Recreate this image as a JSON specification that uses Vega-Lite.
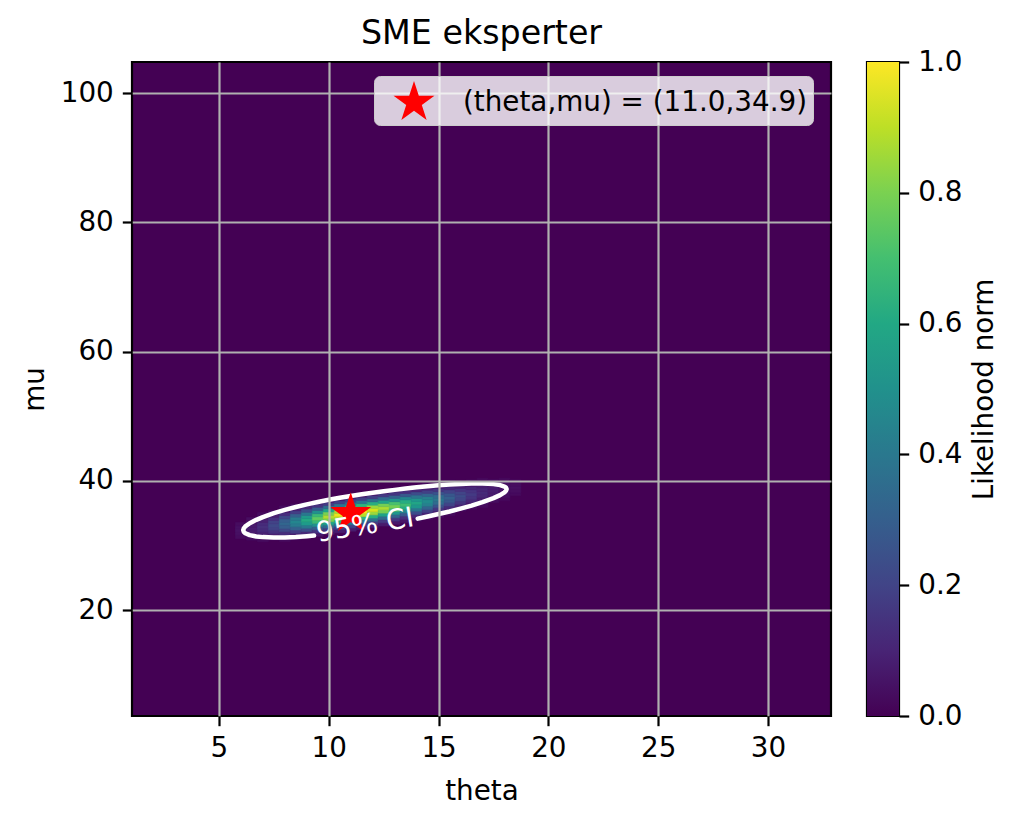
{
"$schema": "https://vega.github.io/schema/vega-lite/v6.json",
"padding": {"left": 20, "top": 15, "right": 5, "bottom": 5},
"background": "white",
"spacing": 32,
"config": {
 "font": "DejaVu Sans",
 "view": {"fill": "#440154", "stroke": "black", "strokeWidth": 2.2},
 "axis": {"labelFont": "DejaVu Sans", "titleFont": "DejaVu Sans", "labelFontSize": 27.8, "titleFontSize": 27.8, "titleFontWeight": "normal", "labelColor": "black", "titleColor": "black", "tickColor": "black", "tickSize": 9.7, "tickWidth": 2.2, "domain": false, "labelPadding": 9}
},
"datasets": {
 "heat": [
  {"t":5.75,"t2":6.25,"m":31.05,"m2":31.55,"L":0.029},{"t":5.75,"t2":6.25,"m":31.55,"m2":32.05,"L":0.040},{"t":5.75,"t2":6.25,"m":32.05,"m2":32.55,"L":0.044},{"t":5.75,"t2":6.25,"m":32.55,"m2":33.05,"L":0.040},{"t":5.75,"t2":6.25,"m":33.05,"m2":33.55,"L":0.029},
  {"t":6.25,"t2":6.75,"m":30.82,"m2":31.32,"L":0.031},{"t":6.25,"t2":6.75,"m":31.32,"m2":31.82,"L":0.053},{"t":6.25,"t2":6.75,"m":31.82,"m2":32.32,"L":0.072},{"t":6.25,"t2":6.75,"m":32.32,"m2":32.82,"L":0.080},{"t":6.25,"t2":6.75,"m":32.82,"m2":33.32,"L":0.072},{"t":6.25,"t2":6.75,"m":33.32,"m2":33.82,"L":0.053},{"t":6.25,"t2":6.75,"m":33.82,"m2":34.32,"L":0.031},
  {"t":6.75,"t2":7.25,"m":30.58,"m2":31.08,"L":0.026},{"t":6.75,"t2":7.25,"m":31.08,"m2":31.58,"L":0.053},{"t":6.75,"t2":7.25,"m":31.58,"m2":32.08,"L":0.090},{"t":6.75,"t2":7.25,"m":32.08,"m2":32.58,"L":0.122},{"t":6.75,"t2":7.25,"m":32.58,"m2":33.08,"L":0.135},{"t":6.75,"t2":7.25,"m":33.08,"m2":33.58,"L":0.122},{"t":6.75,"t2":7.25,"m":33.58,"m2":34.08,"L":0.090},{"t":6.75,"t2":7.25,"m":34.08,"m2":34.58,"L":0.053},{"t":6.75,"t2":7.25,"m":34.58,"m2":35.08,"L":0.026},
  {"t":7.25,"t2":7.75,"m":30.85,"m2":31.35,"L":0.041},{"t":7.25,"t2":7.75,"m":31.35,"m2":31.85,"L":0.085},{"t":7.25,"t2":7.75,"m":31.85,"m2":32.35,"L":0.143},{"t":7.25,"t2":7.75,"m":32.35,"m2":32.85,"L":0.195},{"t":7.25,"t2":7.75,"m":32.85,"m2":33.35,"L":0.216},{"t":7.25,"t2":7.75,"m":33.35,"m2":33.85,"L":0.195},{"t":7.25,"t2":7.75,"m":33.85,"m2":34.35,"L":0.143},{"t":7.25,"t2":7.75,"m":34.35,"m2":34.85,"L":0.085},{"t":7.25,"t2":7.75,"m":34.85,"m2":35.35,"L":0.041},
  {"t":7.75,"t2":8.25,"m":30.61,"m2":31.11,"L":0.025},{"t":7.75,"t2":8.25,"m":31.11,"m2":31.61,"L":0.062},{"t":7.75,"t2":8.25,"m":31.61,"m2":32.11,"L":0.128},{"t":7.75,"t2":8.25,"m":32.11,"m2":32.61,"L":0.215},{"t":7.75,"t2":8.25,"m":32.61,"m2":33.11,"L":0.293},{"t":7.75,"t2":8.25,"m":33.11,"m2":33.61,"L":0.325},{"t":7.75,"t2":8.25,"m":33.61,"m2":34.11,"L":0.293},{"t":7.75,"t2":8.25,"m":34.11,"m2":34.61,"L":0.215},{"t":7.75,"t2":8.25,"m":34.61,"m2":35.11,"L":0.128},{"t":7.75,"t2":8.25,"m":35.11,"m2":35.61,"L":0.062},{"t":7.75,"t2":8.25,"m":35.61,"m2":36.11,"L":0.025},
  {"t":8.25,"t2":8.75,"m":30.88,"m2":31.38,"L":0.035},{"t":8.25,"t2":8.75,"m":31.38,"m2":31.88,"L":0.088},{"t":8.25,"t2":8.75,"m":31.88,"m2":32.38,"L":0.181},{"t":8.25,"t2":8.75,"m":32.38,"m2":32.88,"L":0.303},{"t":8.25,"t2":8.75,"m":32.88,"m2":33.38,"L":0.413},{"t":8.25,"t2":8.75,"m":33.38,"m2":33.88,"L":0.458},{"t":8.25,"t2":8.75,"m":33.88,"m2":34.38,"L":0.413},{"t":8.25,"t2":8.75,"m":34.38,"m2":34.88,"L":0.303},{"t":8.25,"t2":8.75,"m":34.88,"m2":35.38,"L":0.181},{"t":8.25,"t2":8.75,"m":35.38,"m2":35.88,"L":0.088},{"t":8.25,"t2":8.75,"m":35.88,"m2":36.38,"L":0.035},
  {"t":8.75,"t2":9.25,"m":31.14,"m2":31.64,"L":0.046},{"t":8.75,"t2":9.25,"m":31.64,"m2":32.14,"L":0.116},{"t":8.75,"t2":9.25,"m":32.14,"m2":32.64,"L":0.239},{"t":8.75,"t2":9.25,"m":32.64,"m2":33.14,"L":0.401},{"t":8.75,"t2":9.25,"m":33.14,"m2":33.64,"L":0.547},{"t":8.75,"t2":9.25,"m":33.64,"m2":34.14,"L":0.607},{"t":8.75,"t2":9.25,"m":34.14,"m2":34.64,"L":0.547},{"t":8.75,"t2":9.25,"m":34.64,"m2":35.14,"L":0.401},{"t":8.75,"t2":9.25,"m":35.14,"m2":35.64,"L":0.239},{"t":8.75,"t2":9.25,"m":35.64,"m2":36.14,"L":0.116},{"t":8.75,"t2":9.25,"m":36.14,"m2":36.64,"L":0.046},
  {"t":9.25,"t2":9.75,"m":31.41,"m2":31.91,"L":0.057},{"t":9.25,"t2":9.75,"m":31.91,"m2":32.41,"L":0.145},{"t":9.25,"t2":9.75,"m":32.41,"m2":32.91,"L":0.298},{"t":9.25,"t2":9.75,"m":32.91,"m2":33.41,"L":0.499},{"t":9.25,"t2":9.75,"m":33.41,"m2":33.91,"L":0.681},{"t":9.25,"t2":9.75,"m":33.91,"m2":34.41,"L":0.755},{"t":9.25,"t2":9.75,"m":34.41,"m2":34.91,"L":0.681},{"t":9.25,"t2":9.75,"m":34.91,"m2":35.41,"L":0.499},{"t":9.25,"t2":9.75,"m":35.41,"m2":35.91,"L":0.298},{"t":9.25,"t2":9.75,"m":35.91,"m2":36.41,"L":0.145},{"t":9.25,"t2":9.75,"m":36.41,"m2":36.91,"L":0.057},
  {"t":9.75,"t2":10.25,"m":31.67,"m2":32.17,"L":0.067},{"t":9.75,"t2":10.25,"m":32.17,"m2":32.67,"L":0.169},{"t":9.75,"t2":10.25,"m":32.67,"m2":33.17,"L":0.348},{"t":9.75,"t2":10.25,"m":33.17,"m2":33.67,"L":0.584},{"t":9.75,"t2":10.25,"m":33.67,"m2":34.17,"L":0.796},{"t":9.75,"t2":10.25,"m":34.17,"m2":34.67,"L":0.883},{"t":9.75,"t2":10.25,"m":34.67,"m2":35.17,"L":0.796},{"t":9.75,"t2":10.25,"m":35.17,"m2":35.67,"L":0.584},{"t":9.75,"t2":10.25,"m":35.67,"m2":36.17,"L":0.348},{"t":9.75,"t2":10.25,"m":36.17,"m2":36.67,"L":0.169},{"t":9.75,"t2":10.25,"m":36.67,"m2":37.17,"L":0.067},
  {"t":10.25,"t2":10.75,"m":31.94,"m2":32.44,"L":0.073},{"t":10.25,"t2":10.75,"m":32.44,"m2":32.94,"L":0.186},{"t":10.25,"t2":10.75,"m":32.94,"m2":33.44,"L":0.382},{"t":10.25,"t2":10.75,"m":33.44,"m2":33.94,"L":0.641},{"t":10.25,"t2":10.75,"m":33.94,"m2":34.44,"L":0.874},{"t":10.25,"t2":10.75,"m":34.44,"m2":34.94,"L":0.969},{"t":10.25,"t2":10.75,"m":34.94,"m2":35.44,"L":0.874},{"t":10.25,"t2":10.75,"m":35.44,"m2":35.94,"L":0.641},{"t":10.25,"t2":10.75,"m":35.94,"m2":36.44,"L":0.382},{"t":10.25,"t2":10.75,"m":36.44,"m2":36.94,"L":0.186},{"t":10.25,"t2":10.75,"m":36.94,"m2":37.44,"L":0.073},
  {"t":10.75,"t2":11.25,"m":32.2,"m2":32.7,"L":0.076},{"t":10.75,"t2":11.25,"m":32.7,"m2":33.2,"L":0.192},{"t":10.75,"t2":11.25,"m":33.2,"m2":33.7,"L":0.395},{"t":10.75,"t2":11.25,"m":33.7,"m2":34.2,"L":0.662},{"t":10.75,"t2":11.25,"m":34.2,"m2":34.7,"L":0.902},{"t":10.75,"t2":11.25,"m":34.7,"m2":35.2,"L":1.0},{"t":10.75,"t2":11.25,"m":35.2,"m2":35.7,"L":0.902},{"t":10.75,"t2":11.25,"m":35.7,"m2":36.2,"L":0.662},{"t":10.75,"t2":11.25,"m":36.2,"m2":36.7,"L":0.395},{"t":10.75,"t2":11.25,"m":36.7,"m2":37.2,"L":0.192},{"t":10.75,"t2":11.25,"m":37.2,"m2":37.7,"L":0.076},
  {"t":11.25,"t2":11.75,"m":32.47,"m2":32.97,"L":0.074},{"t":11.25,"t2":11.75,"m":32.97,"m2":33.47,"L":0.189},{"t":11.25,"t2":11.75,"m":33.47,"m2":33.97,"L":0.389},{"t":11.25,"t2":11.75,"m":33.97,"m2":34.47,"L":0.652},{"t":11.25,"t2":11.75,"m":34.47,"m2":34.97,"L":0.889},{"t":11.25,"t2":11.75,"m":34.97,"m2":35.47,"L":0.985},{"t":11.25,"t2":11.75,"m":35.47,"m2":35.97,"L":0.889},{"t":11.25,"t2":11.75,"m":35.97,"m2":36.47,"L":0.652},{"t":11.25,"t2":11.75,"m":36.47,"m2":36.97,"L":0.389},{"t":11.25,"t2":11.75,"m":36.97,"m2":37.47,"L":0.189},{"t":11.25,"t2":11.75,"m":37.47,"m2":37.97,"L":0.074},
  {"t":11.75,"t2":12.25,"m":32.73,"m2":33.23,"L":0.071},{"t":11.75,"t2":12.25,"m":33.23,"m2":33.73,"L":0.180},{"t":11.75,"t2":12.25,"m":33.73,"m2":34.23,"L":0.372},{"t":11.75,"t2":12.25,"m":34.23,"m2":34.73,"L":0.623},{"t":11.75,"t2":12.25,"m":34.73,"m2":35.23,"L":0.850},{"t":11.75,"t2":12.25,"m":35.23,"m2":35.73,"L":0.942},{"t":11.75,"t2":12.25,"m":35.73,"m2":36.23,"L":0.850},{"t":11.75,"t2":12.25,"m":36.23,"m2":36.73,"L":0.623},{"t":11.75,"t2":12.25,"m":36.73,"m2":37.23,"L":0.372},{"t":11.75,"t2":12.25,"m":37.23,"m2":37.73,"L":0.180},{"t":11.75,"t2":12.25,"m":37.73,"m2":38.23,"L":0.071},
  {"t":12.25,"t2":12.75,"m":33.0,"m2":33.5,"L":0.066},{"t":12.25,"t2":12.75,"m":33.5,"m2":34.0,"L":0.168},{"t":12.25,"t2":12.75,"m":34.0,"m2":34.5,"L":0.345},{"t":12.25,"t2":12.75,"m":34.5,"m2":35.0,"L":0.579},{"t":12.25,"t2":12.75,"m":35.0,"m2":35.5,"L":0.789},{"t":12.25,"t2":12.75,"m":35.5,"m2":36.0,"L":0.875},{"t":12.25,"t2":12.75,"m":36.0,"m2":36.5,"L":0.789},{"t":12.25,"t2":12.75,"m":36.5,"m2":37.0,"L":0.579},{"t":12.25,"t2":12.75,"m":37.0,"m2":37.5,"L":0.345},{"t":12.25,"t2":12.75,"m":37.5,"m2":38.0,"L":0.168},{"t":12.25,"t2":12.75,"m":38.0,"m2":38.5,"L":0.066},
  {"t":12.75,"t2":13.25,"m":33.26,"m2":33.76,"L":0.060},{"t":12.75,"t2":13.25,"m":33.76,"m2":34.26,"L":0.151},{"t":12.75,"t2":13.25,"m":34.26,"m2":34.76,"L":0.311},{"t":12.75,"t2":13.25,"m":34.76,"m2":35.26,"L":0.522},{"t":12.75,"t2":13.25,"m":35.26,"m2":35.76,"L":0.711},{"t":12.75,"t2":13.25,"m":35.76,"m2":36.26,"L":0.788},{"t":12.75,"t2":13.25,"m":36.26,"m2":36.76,"L":0.711},{"t":12.75,"t2":13.25,"m":36.76,"m2":37.26,"L":0.522},{"t":12.75,"t2":13.25,"m":37.26,"m2":37.76,"L":0.311},{"t":12.75,"t2":13.25,"m":37.76,"m2":38.26,"L":0.151},{"t":12.75,"t2":13.25,"m":38.26,"m2":38.76,"L":0.060},
  {"t":13.25,"t2":13.75,"m":33.53,"m2":34.03,"L":0.052},{"t":13.25,"t2":13.75,"m":34.03,"m2":34.53,"L":0.132},{"t":13.25,"t2":13.75,"m":34.53,"m2":35.03,"L":0.272},{"t":13.25,"t2":13.75,"m":35.03,"m2":35.53,"L":0.456},{"t":13.25,"t2":13.75,"m":35.53,"m2":36.03,"L":0.622},{"t":13.25,"t2":13.75,"m":36.03,"m2":36.53,"L":0.690},{"t":13.25,"t2":13.75,"m":36.53,"m2":37.03,"L":0.622},{"t":13.25,"t2":13.75,"m":37.03,"m2":37.53,"L":0.456},{"t":13.25,"t2":13.75,"m":37.53,"m2":38.03,"L":0.272},{"t":13.25,"t2":13.75,"m":38.03,"m2":38.53,"L":0.132},{"t":13.25,"t2":13.75,"m":38.53,"m2":39.03,"L":0.052},
  {"t":13.75,"t2":14.25,"m":33.79,"m2":34.29,"L":0.044},{"t":13.75,"t2":14.25,"m":34.29,"m2":34.79,"L":0.112},{"t":13.75,"t2":14.25,"m":34.79,"m2":35.29,"L":0.231},{"t":13.75,"t2":14.25,"m":35.29,"m2":35.79,"L":0.387},{"t":13.75,"t2":14.25,"m":35.79,"m2":36.29,"L":0.528},{"t":13.75,"t2":14.25,"m":36.29,"m2":36.79,"L":0.586},{"t":13.75,"t2":14.25,"m":36.79,"m2":37.29,"L":0.528},{"t":13.75,"t2":14.25,"m":37.29,"m2":37.79,"L":0.387},{"t":13.75,"t2":14.25,"m":37.79,"m2":38.29,"L":0.231},{"t":13.75,"t2":14.25,"m":38.29,"m2":38.79,"L":0.112},{"t":13.75,"t2":14.25,"m":38.79,"m2":39.29,"L":0.044},
  {"t":14.25,"t2":14.75,"m":34.06,"m2":34.56,"L":0.036},{"t":14.25,"t2":14.75,"m":34.56,"m2":35.06,"L":0.092},{"t":14.25,"t2":14.75,"m":35.06,"m2":35.56,"L":0.190},{"t":14.25,"t2":14.75,"m":35.56,"m2":36.06,"L":0.319},{"t":14.25,"t2":14.75,"m":36.06,"m2":36.56,"L":0.435},{"t":14.25,"t2":14.75,"m":36.56,"m2":37.06,"L":0.483},{"t":14.25,"t2":14.75,"m":37.06,"m2":37.56,"L":0.435},{"t":14.25,"t2":14.75,"m":37.56,"m2":38.06,"L":0.319},{"t":14.25,"t2":14.75,"m":38.06,"m2":38.56,"L":0.190},{"t":14.25,"t2":14.75,"m":38.56,"m2":39.06,"L":0.092},{"t":14.25,"t2":14.75,"m":39.06,"m2":39.56,"L":0.036},
  {"t":14.75,"t2":15.25,"m":34.32,"m2":34.82,"L":0.029},{"t":14.75,"t2":15.25,"m":34.82,"m2":35.32,"L":0.074},{"t":14.75,"t2":15.25,"m":35.32,"m2":35.82,"L":0.152},{"t":14.75,"t2":15.25,"m":35.82,"m2":36.32,"L":0.256},{"t":14.75,"t2":15.25,"m":36.32,"m2":36.82,"L":0.348},{"t":14.75,"t2":15.25,"m":36.82,"m2":37.32,"L":0.386},{"t":14.75,"t2":15.25,"m":37.32,"m2":37.82,"L":0.348},{"t":14.75,"t2":15.25,"m":37.82,"m2":38.32,"L":0.256},{"t":14.75,"t2":15.25,"m":38.32,"m2":38.82,"L":0.152},{"t":14.75,"t2":15.25,"m":38.82,"m2":39.32,"L":0.074},{"t":14.75,"t2":15.25,"m":39.32,"m2":39.82,"L":0.029},
  {"t":15.25,"t2":15.75,"m":34.59,"m2":35.09,"L":0.023},{"t":15.25,"t2":15.75,"m":35.09,"m2":35.59,"L":0.057},{"t":15.25,"t2":15.75,"m":35.59,"m2":36.09,"L":0.118},{"t":15.25,"t2":15.75,"m":36.09,"m2":36.59,"L":0.198},{"t":15.25,"t2":15.75,"m":36.59,"m2":37.09,"L":0.271},{"t":15.25,"t2":15.75,"m":37.09,"m2":37.59,"L":0.300},{"t":15.25,"t2":15.75,"m":37.59,"m2":38.09,"L":0.271},{"t":15.25,"t2":15.75,"m":38.09,"m2":38.59,"L":0.198},{"t":15.25,"t2":15.75,"m":38.59,"m2":39.09,"L":0.118},{"t":15.25,"t2":15.75,"m":39.09,"m2":39.59,"L":0.057},{"t":15.25,"t2":15.75,"m":39.59,"m2":40.09,"L":0.023},
  {"t":15.75,"t2":16.25,"m":35.35,"m2":35.85,"L":0.043},{"t":15.75,"t2":16.25,"m":35.85,"m2":36.35,"L":0.089},{"t":15.75,"t2":16.25,"m":36.35,"m2":36.85,"L":0.150},{"t":15.75,"t2":16.25,"m":36.85,"m2":37.35,"L":0.204},{"t":15.75,"t2":16.25,"m":37.35,"m2":37.85,"L":0.226},{"t":15.75,"t2":16.25,"m":37.85,"m2":38.35,"L":0.204},{"t":15.75,"t2":16.25,"m":38.35,"m2":38.85,"L":0.150},{"t":15.75,"t2":16.25,"m":38.85,"m2":39.35,"L":0.089},{"t":15.75,"t2":16.25,"m":39.35,"m2":39.85,"L":0.043},
  {"t":16.25,"t2":16.75,"m":35.62,"m2":36.12,"L":0.032},{"t":16.25,"t2":16.75,"m":36.12,"m2":36.62,"L":0.065},{"t":16.25,"t2":16.75,"m":36.62,"m2":37.12,"L":0.110},{"t":16.25,"t2":16.75,"m":37.12,"m2":37.62,"L":0.149},{"t":16.25,"t2":16.75,"m":37.62,"m2":38.12,"L":0.166},{"t":16.25,"t2":16.75,"m":38.12,"m2":38.62,"L":0.149},{"t":16.25,"t2":16.75,"m":38.62,"m2":39.12,"L":0.110},{"t":16.25,"t2":16.75,"m":39.12,"m2":39.62,"L":0.065},{"t":16.25,"t2":16.75,"m":39.62,"m2":40.12,"L":0.032},
  {"t":16.75,"t2":17.25,"m":35.88,"m2":36.38,"L":0.023},{"t":16.75,"t2":17.25,"m":36.38,"m2":36.88,"L":0.046},{"t":16.75,"t2":17.25,"m":36.88,"m2":37.38,"L":0.078},{"t":16.75,"t2":17.25,"m":37.38,"m2":37.88,"L":0.106},{"t":16.75,"t2":17.25,"m":37.88,"m2":38.38,"L":0.118},{"t":16.75,"t2":17.25,"m":38.38,"m2":38.88,"L":0.106},{"t":16.75,"t2":17.25,"m":38.88,"m2":39.38,"L":0.078},{"t":16.75,"t2":17.25,"m":39.38,"m2":39.88,"L":0.046},{"t":16.75,"t2":17.25,"m":39.88,"m2":40.38,"L":0.023},
  {"t":17.25,"t2":17.75,"m":36.65,"m2":37.15,"L":0.032},{"t":17.25,"t2":17.75,"m":37.15,"m2":37.65,"L":0.054},{"t":17.25,"t2":17.75,"m":37.65,"m2":38.15,"L":0.073},{"t":17.25,"t2":17.75,"m":38.15,"m2":38.65,"L":0.081},{"t":17.25,"t2":17.75,"m":38.65,"m2":39.15,"L":0.073},{"t":17.25,"t2":17.75,"m":39.15,"m2":39.65,"L":0.054},{"t":17.25,"t2":17.75,"m":39.65,"m2":40.15,"L":0.032},
  {"t":17.75,"t2":18.25,"m":36.91,"m2":37.41,"L":0.021},{"t":17.75,"t2":18.25,"m":37.41,"m2":37.91,"L":0.036},{"t":17.75,"t2":18.25,"m":37.91,"m2":38.41,"L":0.049},{"t":17.75,"t2":18.25,"m":38.41,"m2":38.91,"L":0.054},{"t":17.75,"t2":18.25,"m":38.91,"m2":39.41,"L":0.049},{"t":17.75,"t2":18.25,"m":39.41,"m2":39.91,"L":0.036},{"t":17.75,"t2":18.25,"m":39.91,"m2":40.41,"L":0.021},
  {"t":18.25,"t2":18.75,"m":37.68,"m2":38.18,"L":0.023},{"t":18.25,"t2":18.75,"m":38.18,"m2":38.68,"L":0.032},{"t":18.25,"t2":18.75,"m":38.68,"m2":39.18,"L":0.035},{"t":18.25,"t2":18.75,"m":39.18,"m2":39.68,"L":0.032},{"t":18.25,"t2":18.75,"m":39.68,"m2":40.18,"L":0.023}
 ],
 "ellipse": [
  {"o":1,"t":14.05,"m":34.14},{"o":2,"t":14.5,"m":34.46},{"o":3,"t":15.0,"m":34.85},{"o":4,"t":15.5,"m":35.25},{"o":5,"t":16.0,"m":35.69},{"o":6,"t":16.5,"m":36.16},{"o":7,"t":17.0,"m":36.69},{"o":8,"t":17.5,"m":37.31},{"o":9,"t":17.8,"m":37.78},{"o":10,"t":18.0,"m":38.21},{"o":11,"t":18.07,"m":38.46},{"o":12,"t":18.098,"m":38.71},{"o":13,"t":18.07,"m":38.94},{"o":14,"t":18.0,"m":39.11},{"o":15,"t":17.8,"m":39.33},{"o":16,"t":17.5,"m":39.48},{"o":17,"t":17.0,"m":39.57},{"o":18,"t":16.5,"m":39.57},{"o":19,"t":16.0,"m":39.51},{"o":20,"t":15.5,"m":39.42},{"o":21,"t":15.0,"m":39.29},{"o":22,"t":14.5,"m":39.15},{"o":23,"t":14.0,"m":38.98},{"o":24,"t":13.5,"m":38.80},{"o":25,"t":13.0,"m":38.59},{"o":26,"t":12.5,"m":38.38},{"o":27,"t":12.0,"m":38.15},{"o":28,"t":11.5,"m":37.90},{"o":29,"t":11.0,"m":37.64},{"o":30,"t":10.5,"m":37.36},{"o":31,"t":10.0,"m":37.06},{"o":32,"t":9.5,"m":36.72},{"o":33,"t":9.0,"m":36.35},{"o":34,"t":8.5,"m":35.94},{"o":35,"t":8.0,"m":35.49},{"o":36,"t":7.5,"m":34.98},{"o":37,"t":7.0,"m":34.38},{"o":38,"t":6.7,"m":33.96},{"o":39,"t":6.4,"m":33.43},{"o":40,"t":6.2,"m":32.94},{"o":41,"t":6.13,"m":32.64},{"o":42,"t":6.105,"m":32.36},{"o":43,"t":6.13,"m":32.10},{"o":44,"t":6.2,"m":31.88},{"o":45,"t":6.4,"m":31.59},{"o":46,"t":6.7,"m":31.38},{"o":47,"t":7.0,"m":31.28},{"o":48,"t":7.5,"m":31.21},{"o":49,"t":8.0,"m":31.23},{"o":50,"t":8.5,"m":31.31},{"o":51,"t":9.0,"m":31.43},{"o":52,"t":9.33,"m":31.53}
 ],
 "ci": [{"t": 11.66, "m": 33.0, "label": "95% CI"}],
 "star": [{"t": 11.0, "m": 34.9, "label": "(theta,mu) = (11.0,34.9)"}],
 "cbar": [{"lo": 0, "hi": 1}]
},
"hconcat": [
 {
  "width": 699, "height": 654,
  "title": {"text": "SME eksperter", "fontSize": 33.3, "fontWeight": "normal", "font": "DejaVu Sans", "color": "black", "frame": "group", "anchor": "middle", "baseline": "alphabetic", "offset": -15},
  "encoding": {
   "x": {"field": "t", "type": "quantitative", "scale": {"domain": [1.04, 32.87], "nice": false, "zero": false}, "axis": {"values": [5, 10, 15, 20, 25, 30], "title": "theta", "grid": true, "gridColor": "#b0b0b0", "gridWidth": 2.2, "zindex": 1, "titlePadding": 15}},
   "y": {"field": "m", "type": "quantitative", "scale": {"domain": [3.6, 104.8], "nice": false, "zero": false}, "axis": {"values": [20, 40, 60, 80, 100], "title": "mu", "grid": true, "gridColor": "#b0b0b0", "gridWidth": 2.2, "zindex": 1, "titlePadding": 11}}
  },
  "layer": [
   {
    "data": {"name": "heat"},
    "mark": {"type": "rect", "strokeWidth": 0.6},
    "encoding": {
     "x2": {"field": "t2"},
     "y2": {"field": "m2"},
     "color": {"field": "L", "type": "quantitative", "scale": {"scheme": "viridis", "domain": [0, 1]}, "legend": null},
     "stroke": {"field": "L", "type": "quantitative", "scale": {"scheme": "viridis", "domain": [0, 1]}, "legend": null}
    }
   },
   {
    "data": {"name": "ellipse"},
    "mark": {"type": "line", "color": "white", "strokeWidth": 4.5, "strokeCap": "round", "strokeJoin": "round"},
    "encoding": {"order": {"field": "o", "type": "quantitative"}}
   },
   {
    "data": {"name": "star"},
    "mark": {"type": "point", "filled": true, "color": "red", "opacity": 1, "size": 1849, "strokeWidth": 0},
    "encoding": {
     "shape": {"field": "label", "type": "nominal",
      "scale": {"range": ["M0,-1L0.2245,-0.309L0.951,-0.309L0.363,0.118L0.588,0.809L0,0.382L-0.588,0.809L-0.363,0.118L-0.951,-0.309L-0.2245,-0.309Z"]},
      "legend": {"orient": "none", "legendX": 242, "legendY": 14, "title": null, "symbolSize": 1849, "symbolFillColor": "red", "symbolStrokeColor": "red", "symbolStrokeWidth": 0, "symbolOpacity": 1, "symbolOffset": 13.5, "labelOffset": 27.5, "labelFontSize": 27.8, "labelFont": "DejaVu Sans", "labelColor": "black", "labelLimit": 0, "padding": 5, "fillColor": "rgba(255,255,255,0.8)", "strokeColor": "#cccccc", "cornerRadius": 6, "zindex": 2}
     }
    }
   },
   {
    "data": {"name": "ci"},
    "mark": {"type": "text", "color": "white", "fontSize": 27.8, "font": "DejaVu Sans", "angle": 350.6, "align": "center", "baseline": "middle"},
    "encoding": {"text": {"field": "label"}}
   }
  ]
 },
 {
  "width": 32, "height": 654,
  "data": {"name": "cbar"},
  "mark": {"type": "rect", "fill": {"gradient": "linear", "x1": 0, "y1": 1, "x2": 0, "y2": 0, "stops": [
    {"offset": 0, "color": "#440154"}, {"offset": 0.1, "color": "#482475"}, {"offset": 0.2, "color": "#414487"}, {"offset": 0.3, "color": "#355f8d"}, {"offset": 0.4, "color": "#2a788e"}, {"offset": 0.5, "color": "#21918c"}, {"offset": 0.6, "color": "#22a884"}, {"offset": 0.7, "color": "#44bf70"}, {"offset": 0.8, "color": "#7ad151"}, {"offset": 0.9, "color": "#bddf26"}, {"offset": 1, "color": "#fde725"}]}},
  "encoding": {
   "y": {"field": "lo", "type": "quantitative", "scale": {"domain": [0, 1], "nice": false, "zero": false}, "axis": {"orient": "right", "values": [0, 0.2, 0.4, 0.6, 0.8, 1], "format": ".1f", "title": "Likelihood norm", "titleAngle": 270, "titleBaseline": "top", "titlePadding": 9, "grid": false}},
   "y2": {"field": "hi"}
  }
 }
]
}
